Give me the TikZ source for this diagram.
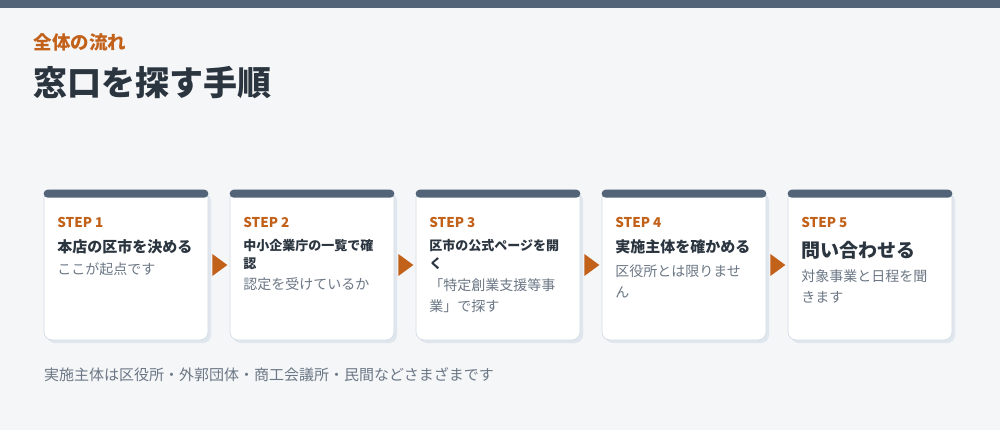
\documentclass[tikz,border=0pt]{standalone}
\usepackage{fontspec}
\setmainfont{Noto Sans CJK JP}
\usetikzlibrary{positioning, calc, shadows}

\definecolor{barcol}{HTML}{536478}
\definecolor{accent}{HTML}{C2611A}
\definecolor{inkcol}{HTML}{2B3540}
\definecolor{muted}{HTML}{6B7785}
\definecolor{pagebg}{HTML}{F5F6F8}
\definecolor{cardline}{HTML}{D3DBE5}
\definecolor{cardshadow}{HTML}{DFE6EE}

\tikzset{
    card/.style={rectangle, minimum width=164pt, minimum height=150pt, inner sep=0pt,
        rounded corners=8pt, fill=white, draw=cardline, line width=0.7pt,
        drop shadow={shadow xshift=3pt, shadow yshift=-3pt, fill=cardshadow, opacity=1}},
    steplabel/.style={anchor=west, inner sep=0pt, text=accent, font=\bfseries\fontsize{13.5}{16}\selectfont},
    titletext/.style={anchor=west, inner sep=0pt, align=left, text=inkcol, font=\bfseries\fontsize{#1}{18}\selectfont},
    subtext/.style={anchor=west, inner sep=0pt, align=left, text=muted, font=\fontsize{14}{21}\selectfont},
}

\begin{document}
\begin{tikzpicture}[x=1pt, y=-1pt]
        % background and top strip
        \fill[pagebg] (0,0) rectangle (1000,430);
        \useasboundingbox (0,0) rectangle (1000,430);
        \fill[barcol] (0,0) rectangle (1000,8);

        % heading
        \node[anchor=west, inner sep=0pt, text=accent, font=\bfseries\fontsize{18.5}{22}\selectfont] (kicker) at (33.5,42.7) {全体の流れ};
        \node[anchor=west, inner sep=0pt, text=inkcol, font=\bfseries\fontsize{34}{40}\selectfont] (heading) at (33.5,83) {窓口を探す手順};

        % the cards
        \foreach \i in {1,...,5} {
            \node[card] (card\i) at ({126+186*(\i-1)},265) {};
            \fill[barcol, rounded corners=4pt] (card\i.north west) rectangle ($(card\i.north east)+(0,8)$);
            \node[steplabel] (step\i) at ($(card\i.north west)+(13.5,33)$) {STEP \i};
        }

        % arrows between the cards
        \foreach \i in {1,...,4}
            \fill[accent] ($(card\i.east)+(4,-11)$) -- ($(card\i.east)+(19,0)$) -- ($(card\i.east)+(4,11)$) -- cycle;

        % step 1
        \node[titletext=15] (title1) at ($(card1.north west)+(13.5,57)$) {本店の区市を決める};
        \node[subtext] (sub1) at ($(card1.north west)+(13.5,80)$) {ここが起点です};

        % step 2
        \node[titletext=13] (title2) at ($(card2.north west)+(13.5,64.5)$) {中小企業庁の一覧で確\\認};
        \node[subtext] (sub2) at ($(card2.north west)+(13.5,95)$) {認定を受けているか};

        % step 3
        \node[titletext=13] (title3) at ($(card3.north west)+(13.5,64.5)$) {区市の公式ページを開\\く};
        \node[subtext] (sub3) at ($(card3.north west)+(13.5,106)$) {「特定創業支援等事\\業」で探す};

        % step 4
        \node[titletext=15] (title4) at ($(card4.north west)+(13.5,57)$) {実施主体を確かめる};
        \node[subtext] (sub4) at ($(card4.north west)+(13.5,91.5)$) {区役所とは限りませ\\ん};

        % step 5
        \node[titletext=19] (title5) at ($(card5.north west)+(13.5,61)$) {問い合わせる};
        \node[subtext] (sub5) at ($(card5.north west)+(13.5,96.5)$) {対象事業と日程を聞\\きます};

        % note below
        \node[anchor=west, inner sep=0pt, text=muted, font=\fontsize{15}{18}\selectfont] (note) at (44,374.5) {実施主体は区役所・外郭団体・商工会議所・民間などさまざまです};
\end{tikzpicture}
\end{document}
